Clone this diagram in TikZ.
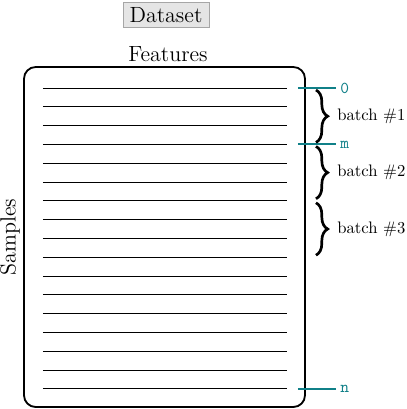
\documentclass[tikz,border=0pt]{standalone}
\usetikzlibrary{decorations.pathreplacing,positioning,calc}

\definecolor{markteal}{RGB}{16,128,136}

\begin{document}
\begin{tikzpicture}[x=0.6pt,y=-0.6pt,
  title node/.style={draw=gray!70,fill=gray!20,inner xsep=4pt,inner ysep=3pt,font=\fontsize{13.2}{15}\selectfont},
  axis label/.style={font=\fontsize{13.2}{15}\selectfont},
  row line/.style={line width=0.6pt},
  mark line/.style={markteal,line width=1.2pt},
  mark label/.style={markteal,font=\ttfamily,anchor=west,inner sep=2.5pt},
  batch brace/.style={decorate,decoration={brace,amplitude=7pt},line width=1.6pt},
  batch label/.style={anchor=west,inner sep=1pt}]

 \useasboundingbox (0,0) rectangle (407,409);

 \node[title node] (dataset) at (166,15) {Dataset};
 \node[axis label] (features) at (168,54) {Features};
 \node[axis label,rotate=90] (samples) at (10,237) {Samples};

 % the table
 \draw[line width=1.1pt,rounded corners=7pt] (24,67) rectangle (305,407);

 % sample rows
 \foreach \i in {0,...,16} {
   \coordinate (l\i) at (43,{88+18.8*\i});
   \coordinate (r\i) at (287,{88+18.8*\i});
   \coordinate (b\i) at (316,{88+18.8*\i});
   \draw[row line] (l\i) -- (r\i);
 }

 % index marks
 \foreach \r/\t in {0/0,3/m,16/n} {
   \coordinate (m\r) at (298,{88+18.8*\r});
   \node[mark label] (t\r) at (336,{88+18.8*\r}) {\t};
   \draw[mark line] (m\r) -- (t\r.west);
 }

 % batches
 \foreach \a/\b/\k in {0/3/1,3/6/2,6/9/3} {
   \draw[batch brace] ($(b\a)+(0,2)$) -- ($(b\b)+(0,-2)$)
     node[batch label,midway,xshift=11pt] (batch\k) {batch \#\k};
 }

\end{tikzpicture}
\end{document}
